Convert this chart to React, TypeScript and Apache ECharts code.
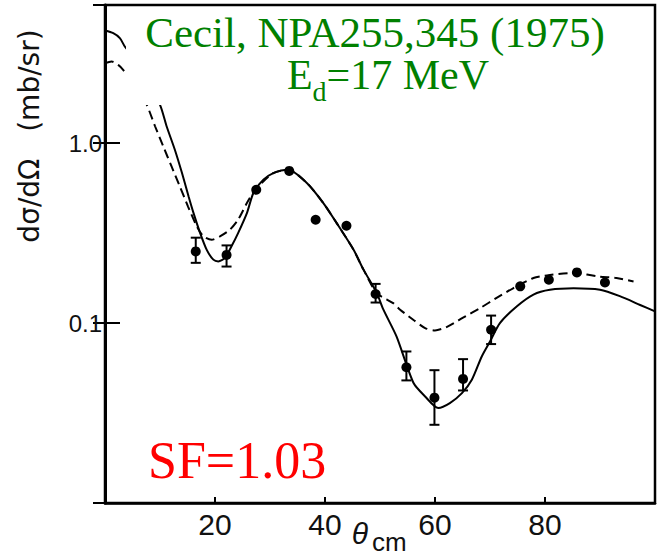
import React, { useEffect, useRef } from 'react';
import * as echarts from 'echarts';

// Experimental points (theta_cm in degrees, dσ/dΩ in mb/sr)
const pointAngles = [16.5, 22.1, 27.5, 33.5, 38.3, 43.9, 49.2, 54.8, 59.9, 65.1, 70.2, 75.5, 80.7, 85.8, 90.9];
const pointValues = [0.25, 0.239, 0.55, 0.70, 0.375, 0.347, 0.145, 0.0568, 0.0385, 0.0489, 0.0918, 0.16, 0.174, 0.191, 0.168];

// Error bars
const errAngles = [16.5, 22.1, 49.2, 54.8, 59.9, 65.1, 70.2];
const errLow = [0.216, 0.206, 0.130, 0.048, 0.0272, 0.0422, 0.0764];
const errHigh = [0.298, 0.270, 0.165, 0.0695, 0.0547, 0.063, 0.11];

// Solid calculation
const solidAngles = [0, 1.5, 2.7, 3.6, 5.5, 7.5, 10, 11.2, 12.7, 14.0, 15.2, 16.1, 17.3, 18.5, 19.7, 20.6, 21.8, 23.0, 24.2, 25.8, 27.0, 28.8, 30.6, 33.3, 36.7, 39.7, 42.1, 45.2, 47.0, 49.4, 50.6, 53.0, 56.1, 58.2, 60.6, 62.7, 64.9, 66.7, 68.5, 70.0, 71.8, 74.9, 77.9, 80.9, 85.2, 90.0, 93.6, 97.3, 100];
const solidValues = [4.22, 4.08, 3.83, 3.44, 2.9, 2.2, 1.63, 1.24, 0.918, 0.681, 0.505, 0.408, 0.316, 0.255, 0.225, 0.22, 0.23, 0.267, 0.316, 0.408, 0.53, 0.625, 0.681, 0.711, 0.6, 0.464, 0.36, 0.255, 0.198, 0.147, 0.119, 0.0843, 0.0464, 0.0391, 0.0337, 0.0359, 0.0408, 0.0484, 0.0652, 0.079, 0.1, 0.124, 0.144, 0.153, 0.156, 0.153, 0.141, 0.126, 0.116];

// Dashed calculation
const dashedAngles = [0, 1.2, 2.4, 3.3, 5.0, 6.5, 7.6, 9.1, 10.6, 12.1, 13.6, 15.1, 16.7, 17.9, 19.4, 20.9, 22.7, 24.2, 25.8, 27.3, 30.6, 33.3, 36.7, 39.7, 42.1, 45.2, 47.0, 49.4, 52.4, 53.6, 56.1, 58.2, 60.0, 62.1, 65.1, 68.2, 71.2, 74.2, 77.9, 80.9, 85.2, 90.0, 93.0, 96.1];
const dashedValues = [2.78, 2.84, 2.72, 2.55, 2.15, 1.85, 1.63, 1.24, 0.957, 0.741, 0.574, 0.444, 0.344, 0.303, 0.29, 0.303, 0.33, 0.375, 0.464, 0.55, 0.681, 0.711, 0.6, 0.464, 0.36, 0.255, 0.198, 0.147, 0.129, 0.119, 0.104, 0.0938, 0.091, 0.095, 0.107, 0.121, 0.138, 0.156, 0.178, 0.185, 0.19, 0.181, 0.178, 0.17];

const xTickLabels = ['20', '40', '60', '80'];

function txt(text: string, x: number, y: number, font: string, fill: string, align = 'left', extra: any = {}) {
  return {
    type: 'text',
    x,
    y,
    z: 101,
    ...extra,
    style: {
      text,
      font,
      fill,
      align,
      textAlign: align,
      verticalAlign: 'middle',
      textVerticalAlign: 'middle',
    },
  };
}

export default function App() {
  const ref = useRef<HTMLDivElement>(null);
  useEffect(() => {
    const chart = echarts.init(ref.current!, null, { renderer: 'svg' });
    const option: any = {
      animation: false,
      backgroundColor: '#fff',
      grid: {
        left: 105, right: 3, top: 5, bottom: 53,
        show: true, borderColor: '#000', borderWidth: 2.5, backgroundColor: 'transparent',
      },
      xAxis: {
        type: 'value', min: 0, max: 100, interval: 20,
        axisLine: { show: true, onZero: false, lineStyle: { color: '#000', width: 2.5 } },
        axisTick: { show: true, inside: true, length: 6, lineStyle: { color: '#000', width: 2 } },
        splitLine: { show: false },
        axisLabel: {
          formatter: (v: number) => (xTickLabels.includes(String(v)) ? String(v) : ''),
          fontFamily: 'Liberation Sans', fontSize: 30, color: '#111', margin: 6,
        },
      },
      yAxis: [
        {
          type: 'log', logBase: 10, min: 0.01, max: 5.85,
          axisLine: { show: true, onZero: false, lineStyle: { color: '#000', width: 3 } },
          axisTick: { show: true, inside: true, length: 15, lineStyle: { color: '#000', width: 2 } },
          splitLine: { show: false },
          axisLabel: {
            formatter: (v: number) => (Math.abs(v - 1) < 1e-6 ? '1.0' : Math.abs(v - 0.1) < 1e-7 ? '0.1' : ''),
            fontFamily: 'Liberation Sans', fontSize: 24, color: '#111', margin: 3,
          },
        },
        {
          type: 'log', logBase: 10, min: 0.01, max: 5.85, position: 'right',
          axisLine: { show: false },
          axisTick: { show: true, inside: true, length: 12, lineStyle: { color: '#000', width: 2 } },
          axisLabel: { show: false },
          splitLine: { show: false },
        },
      ],
      series: [
        {
          type: 'line', name: 'solid', yAxisIndex: 0,
          data: solidAngles.map((a, i) => [a, solidValues[i]]),
          showSymbol: false, smooth: 0.25,
          lineStyle: { color: '#000', width: 2 }, z: 3,
        },
        {
          type: 'line', name: 'dashed', yAxisIndex: 0,
          data: dashedAngles.map((a, i) => [a, dashedValues[i]]),
          showSymbol: false, smooth: 0.25,
          lineStyle: { color: '#000', width: 2, type: [9, 5] }, z: 3,
        },
        {
          type: 'custom', name: 'errors', yAxisIndex: 0,
          data: errAngles.map((a, i) => [a, errLow[i], errHigh[i]]),
          encode: { x: 0, y: [1, 2] },
          renderItem: (params: any, api: any) => {
            const x = api.value(0);
            const lo = api.coord([x, api.value(1)]);
            const hi = api.coord([x, api.value(2)]);
            const w = 5;
            const st = { stroke: '#000', lineWidth: 2 };
            return {
              type: 'group',
              children: [
                { type: 'line', shape: { x1: lo[0], y1: lo[1], x2: hi[0], y2: hi[1] }, style: st },
                { type: 'line', shape: { x1: lo[0] - w, y1: lo[1], x2: lo[0] + w, y2: lo[1] }, style: st },
                { type: 'line', shape: { x1: hi[0] - w, y1: hi[1], x2: hi[0] + w, y2: hi[1] }, style: st },
              ],
            };
          },
          z: 4,
        },
        {
          type: 'scatter', name: 'data', yAxisIndex: 0,
          data: pointAngles.map((a, i) => [a, pointValues[i]]),
          symbol: 'circle', symbolSize: 10,
          itemStyle: { color: '#000', opacity: 1 }, z: 5,
        },
      ],
      graphic: [
        { type: 'rect', z: 100, shape: { x: 126, y: 7, width: 500, height: 98 }, style: { fill: '#fff' } },
        txt('Cecil, NPA255,345 (1975)', 375, 32, '43px "Liberation Serif"', '#008000', 'center'),
        {
          type: 'text', x: 388, y: 75, z: 101,
          style: {
            text: '{n|E}{s|d}{n|=17 MeV}',
            align: 'center', textAlign: 'center',
            verticalAlign: 'middle', textVerticalAlign: 'middle',
            fill: '#008000',
            rich: {
              n: { fontSize: 42, fontFamily: 'Liberation Serif', lineHeight: 56, fill: '#008000', color: '#008000' },
              s: { fontSize: 28, fontFamily: 'Liberation Serif', lineHeight: 28, padding: [32, 0, 0, 0], fill: '#008000', color: '#008000' },
            },
          },
        },
        txt('SF=1.03', 148, 460, '52px "Liberation Serif"', '#ff0000'),
        txt('dσ/dΩ   (mb/sr)', 29, 136, '28px "DejaVu Sans"', '#111', 'center', { rotation: Math.PI / 2 }),
        txt('θ', 360, 533, 'italic 30px "Liberation Sans"', '#111', 'center'),
        txt('cm', 372, 542, '26px "Liberation Sans"', '#111'),
      ],
    };
    chart.setOption(option);
    return () => chart.dispose();
  }, []);
  return <div ref={ref} style={{ position: 'fixed', left: 0, top: 0, width: 658, height: 556, background: '#fff' }} />;
}
